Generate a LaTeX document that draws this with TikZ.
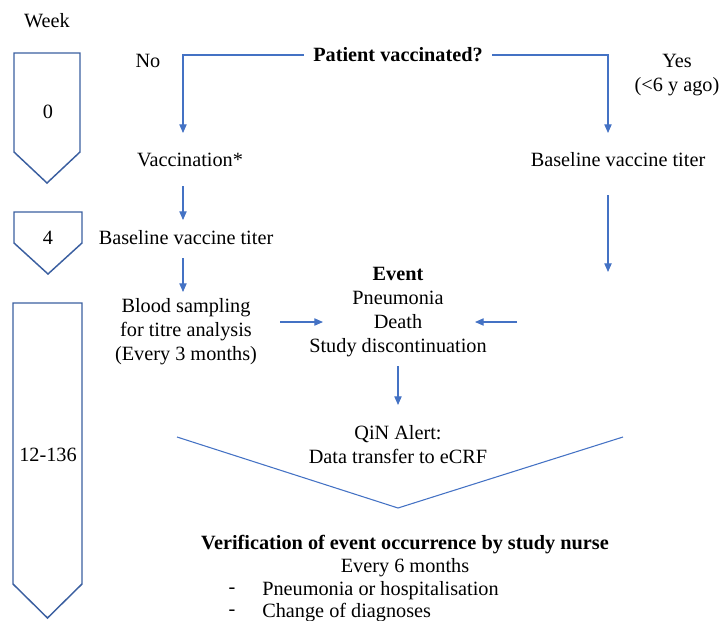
\documentclass[tikz,border=0pt]{standalone}
\usepackage{fontspec}
\setmainfont{Liberation Serif}
\usetikzlibrary{arrows.meta}
\definecolor{arrblue}{HTML}{4472C4}
\definecolor{boxblue}{HTML}{3B5FA0}
\begin{document}
\begin{tikzpicture}[x=0.75pt,y=-0.75pt,
  txt/.style={font=\fontsize{15.2}{18}\selectfont, inner sep=0pt, align=center},
  arr/.style={draw=arrblue, line width=0.8pt, -{Triangle[length=6.5pt,width=5.5pt]}},
  ln/.style={draw=arrblue, line width=0.8pt},
  pent/.style={draw=boxblue, line width=1.1pt, line join=miter}]
\useasboundingbox (0,0) rectangle (721,621);
% week column
\node[txt] (week) at (47,21) {Week};
\draw[pent] (14,53) -- (80,53) -- (80,152) -- (47,183) -- (14,152) -- cycle;
\node[txt] (w0) at (48,112) {0};
\draw[pent] (14,212) -- (82,212) -- (82,243) -- (48,274) -- (14,243) -- cycle;
\node[txt] (w4) at (48,238) {4};
\draw[pent] (13,303) -- (82,303) -- (82,584) -- (47.5,618) -- (13,584) -- cycle;
\node[txt] (w12) at (48,455) {12-136};
% top decision
\node[txt, inner xsep=7pt] (q) at (398,55) {\textbf{Patient vaccinated?}};
\node[txt] (no) at (148,61) {No};
\node[txt] (yes) at (677,75) {Yes\\(<6 y ago)};
\coordinate (a1) at (183,133);
\coordinate (a2) at (608,133);
\draw[arr] (q.west) -| (a1);
\draw[arr] (q.east) -| (a2);
\node[txt] (vacc) at (190,160) {Vaccination*};
\node[txt] (base2) at (618,160) {Baseline vaccine titer};
% left column
\node[txt] (base1) at (186,238) {Baseline vaccine titer};
\coordinate (b1) at (183,186);
\coordinate (b2) at (183,220);
\draw[arr] (b1) -- (b2);
\coordinate (c1) at (183,258);
\coordinate (c2) at (183,292);
\draw[arr] (c1) -- (c2);
\node[txt] (blood) at (186,332) {Blood sampling\\for titre analysis\\(Every 3 months)};
% event
\node[txt] (event) at (398,312) {\textbf{Event}\\Pneumonia\\Death\\Study discontinuation};
\coordinate (d1) at (280,322);
\coordinate (d2) at (323,322);
\draw[arr] (d1) -- (d2);
\coordinate (e1) at (608,195);
\coordinate (e2) at (608,272);
\draw[arr] (e1) -- (e2);
\coordinate (f1) at (517,322);
\coordinate (f2) at (475,322);
\draw[arr] (f1) -- (f2);
\coordinate (g1) at (398,366);
\coordinate (g2) at (398,405);
\draw[arr] (g1) -- (g2);
\node[txt] (qin) at (398,445) {QiN Alert:\\Data transfer to eCRF};
% V shape
\coordinate (v1) at (177,437);
\coordinate (v2) at (398,508);
\coordinate (v3) at (623,437);
\draw[ln] (v1) -- (v2) -- (v3);
% verification
\node[txt] (ver) at (405,545) {\textbf{Verification of event occurrence by study nurse}};
\node[txt] (six) at (405,568) {Every 6 months};
\node[txt] (dash1) at (232,591) {-};
\node[txt, anchor=west] (l1) at (262,591) {Pneumonia or hospitalisation};
\node[txt] (dash2) at (232,613) {-};
\node[txt, anchor=west] (l2) at (262,613) {Change of diagnoses};
\end{tikzpicture}
\end{document}
